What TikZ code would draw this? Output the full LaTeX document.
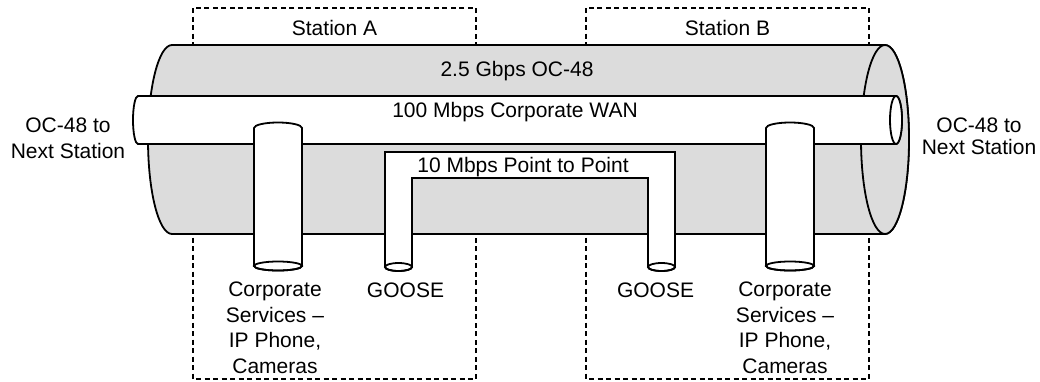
\documentclass[tikz,border=0pt]{standalone}
\usepackage{fontspec}
\setmainfont{Liberation Sans}
\definecolor{pipegray}{HTML}{DCDCDC}
\tikzset{
  stationbox/.style={line width=1.6pt,dash pattern=on 5pt off 3.5pt},
  pipe/.style={draw,line width=1.8pt},
  lbl/.style={font=\fontsize{21}{25.5}\selectfont,align=center,inner sep=0pt}
}
\begin{document}
\begin{tikzpicture}[x=1pt,y=-1pt]
      \useasboundingbox (0,0) rectangle (1040,381);
      \foreach \x/\t in {193/A, 586/B}{
        \draw[stationbox](\x,8)rectangle +(283,371);
        \node[lbl,anchor=base](S\t) at(\x+141.5,35) {Station \t};
      }
      \draw[pipe,fill=pipegray](172,45)--(885,45)arc[start angle=-90,end angle=90,x radius=24,y radius=94.5]
        --(172,234)arc[start angle=90,end angle=270,x radius=24,y radius=94.5]--cycle;
      \draw[pipe,fill=pipegray](885,139.5)ellipse[x radius=24,y radius=94.5];
      \draw[pipe,fill=white](138,96)--(896,96)arc[start angle=-90,end angle=90,x radius=6,y radius=24]
        --(138,144)arc[start angle=90,end angle=270,x radius=5,y radius=24]--cycle;
      \draw[pipe,fill=white](896,120)ellipse[x radius=6,y radius=24];
      \foreach \c in {278,790}{
        \draw[pipe,fill=white](\c-24,266)--(\c-24,128)arc[start angle=180,end angle=360,x radius=24,y radius=5.5]
          --(\c+24,266)arc[start angle=0,end angle=180,x radius=24,y radius=4.5]--cycle;
        \draw[pipe](\c,266)ellipse[x radius=24,y radius=4.5];
      }
      \draw[pipe,fill=white](385,267)--(385,152)--(675,152)--(675,267)arc[start angle=0,end angle=180,x radius=13.5,y radius=4]
        --(648,178)--(412,178)--(412,267)arc[start angle=0,end angle=180,x radius=13.5,y radius=4]--cycle;
      \foreach \c in {398.5,661.5}{
        \draw[pipe](\c,267)ellipse[x radius=13.5,y radius=4];
      }
      \node[lbl,anchor=base](OC48) at(517,76) {2.5 Gbps OC-48};
      \node[lbl,anchor=base](WAN) at(515,117) {100 Mbps Corporate WAN};
      \node[lbl,anchor=base](P2P) at(523,172) {10 Mbps Point to Point};
      \node[lbl,anchor=north](NextL) at(68,118) {OC-48 to\\Next Station};
      \node[lbl,anchor=north](NextR) at(979,118) {OC-48 to\\[-4pt]Next Station};
      \foreach \x/\n in {275/A, 785/B}{
        \node[lbl,anchor=north](Corp\n) at(\x,282) {Corporate\\Services --\\IP Phone,\\Cameras};
      }
      \foreach \x/\n in {405.5/A, 655.5/B}{
        \node[lbl,anchor=north](Goose\n) at(\x,282.5) {GOOSE};
      }
    \end{tikzpicture}
\end{document}
